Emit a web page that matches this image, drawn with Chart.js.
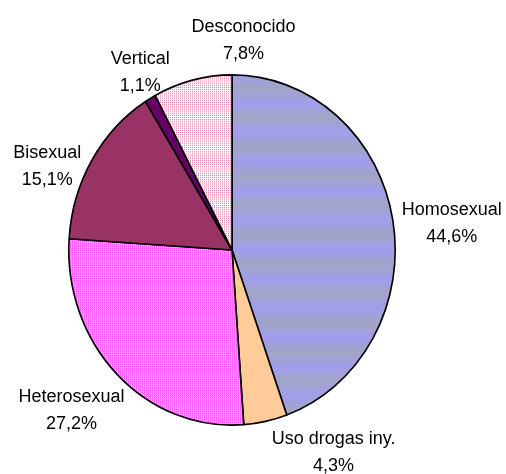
<!DOCTYPE html>
<html>
<head>
<meta charset="utf-8">
<script src="https://cdn.jsdelivr.net/npm/chart.js@4"></script>
<style>
html,body{margin:0;padding:0;background:#fff;}
#wrap{width:506px;height:474px;position:relative;}
</style>
</head>
<body>
<div id="wrap"><canvas id="c" width="506" height="474"></canvas></div>
<script>
const categories = ['Homosexual', 'Uso drogas iny.', 'Heterosexual', 'Bisexual', 'Vertical', 'Desconocido'];
const values = [44.6, 4.3, 27.2, 15.1, 1.1, 7.8];

function makePattern(w, h, base, dots, dotColor) {
  const c = document.createElement('canvas');
  c.width = w; c.height = h;
  const g = c.getContext('2d');
  g.fillStyle = base; g.fillRect(0, 0, w, h);
  g.fillStyle = dotColor;
  dots.forEach(d => g.fillRect(d[0], d[1], d[2] || 1, d[3] || 1));
  return g.createPattern(c, 'repeat');
}

const ctx0 = document.getElementById('c').getContext('2d');
const fills = [
  makePattern(4, 2, '#9d9dea', [[0, 1, 4, 1]], '#a6a6c6'),
  '#ffcc99',
  makePattern(4, 4, '#ff66ff', [[1, 1], [3, 3], [1, 3], [3, 1]], '#ffccff'),
  '#993366',
  '#660066',
  makePattern(4, 4, '#ffffff', [[0, 0], [2, 0], [0, 2], [2, 2]], '#dd77aa')
];

const yStretch = 176 / 164;
const labelNudge = [[59, 3.5], [68, 31], [-45.5, 36.5], [-44.7, 6.2], [-10, -26], [51, -39.5]];

const stretchPlugin = {
  id: 'stretch',
  beforeDatasetsDraw(chart) {
    const arc = chart.getDatasetMeta(0).data[0];
    const ctx = chart.ctx;
    ctx.save();
    ctx.translate(arc.x, arc.y);
    ctx.scale(1, yStretch);
    ctx.translate(-arc.x, -arc.y);
  },
  afterDatasetsDraw(chart) {
    chart.ctx.restore();
  }
};

const labelPlugin = {
  id: 'outLabels',
  afterDraw(chart) {
    const ctx = chart.ctx;
    const meta = chart.getDatasetMeta(0);
    ctx.save();
    ctx.font = '18px "Liberation Sans", Arial, sans-serif';
    ctx.fillStyle = '#000';
    ctx.textAlign = 'center';
    ctx.textBaseline = 'middle';
    meta.data.forEach((a, i) => {
      const mid = (a.startAngle + a.endAngle) / 2;
      const rx = a.x + a.outerRadius * Math.cos(mid);
      const ry = a.y + a.outerRadius * yStretch * Math.sin(mid);
      const cx = rx + labelNudge[i][0];
      const cy = ry + labelNudge[i][1];
      ctx.fillText(categories[i], cx, cy - 13.5);
      ctx.fillText(values[i].toFixed(1).replace('.', ',') + '%', cx, cy + 13.5);
    });
    ctx.restore();
  }
};

new Chart(ctx0, {
  type: 'pie',
  data: {
    labels: categories,
    datasets: [{
      data: values,
      backgroundColor: fills,
      borderColor: '#000',
      borderWidth: 1.6,
      clip: false
    }]
  },
  options: {
    responsive: false,
    animation: false,
    layout: { padding: { left: 68, right: 110, top: 86, bottom: 60 } },
    plugins: { legend: { display: false }, tooltip: { enabled: false } }
  },
  plugins: [stretchPlugin, labelPlugin]
});
</script>
</body>
</html>
